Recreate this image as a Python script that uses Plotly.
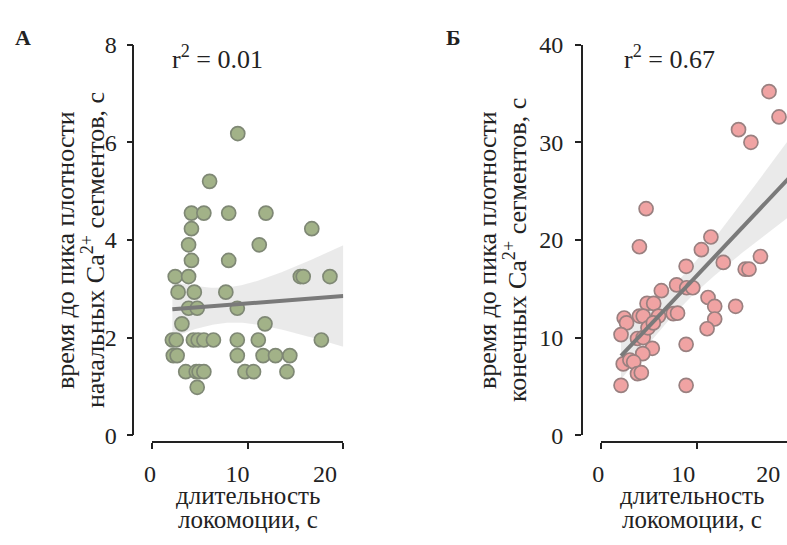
import numpy as np
import plotly.graph_objects as go

# Panel A: locomotion duration (s) vs time to peak density of initial Ca2+ segments (s)
a_dur = [8.95, 6.0,
         4.1, 5.4, 8.0, 11.9,
         4.1, 16.7,
         3.8, 11.2,
         4.1, 8.0,
         2.4, 3.8, 15.5, 15.8, 18.6,
         2.7, 4.4, 7.7,
         3.8, 4.7, 8.9,
         3.1, 11.8,
         2.1, 2.5, 4.3, 4.8, 5.4, 6.4, 8.9, 11.1, 17.7,
         2.2, 2.6, 8.9, 11.6, 12.9, 14.4,
         3.5, 4.6, 4.9, 5.4, 9.7, 10.6, 14.1,
         4.7]
a_peak = [6.18, 5.2,
          4.55, 4.55, 4.55, 4.55,
          4.23, 4.23,
          3.9, 3.9,
          3.58, 3.58,
          3.25, 3.25, 3.25, 3.25, 3.25,
          2.93, 2.93, 2.93,
          2.6, 2.6, 2.6,
          2.28, 2.28,
          1.95, 1.95, 1.95, 1.95, 1.95, 1.95, 1.95, 1.95, 1.95,
          1.63, 1.63, 1.63, 1.63, 1.63, 1.63,
          1.3, 1.3, 1.3, 1.3, 1.3, 1.3, 1.3,
          0.98]

# Panel B: locomotion duration (s) vs time to peak density of final Ca2+ segments (s)
b_dur = [17.6, 18.65, 14.4, 15.7, 4.7, 4.0, 11.5, 10.5, 16.7, 12.8,
         15.1, 15.5, 8.9, 7.9, 8.96, 9.6, 6.3, 11.2, 11.9, 14.1,
         4.8, 5.5, 11.9, 11.1, 7.55, 8.0, 2.4, 2.65, 2.07, 4.0,
         4.4, 6.0, 3.8, 4.4, 4.9, 5.46, 5.35, 4.35, 8.9, 2.3,
         3.0, 3.4, 3.8, 4.2, 2.07, 8.9]
b_peak = [35.2, 32.6, 31.3, 30.0, 23.2, 19.3, 20.3, 19.0, 18.3, 17.7,
          17.0, 17.0, 17.3, 15.4, 15.1, 15.1, 14.8, 14.1, 13.2, 13.2,
          13.5, 13.5, 11.9, 10.9, 12.45, 12.5, 12.0, 11.5, 10.3, 12.2,
          12.2, 12.2, 9.9, 10.0, 11.0, 11.5, 8.9, 8.35, 9.3, 7.3,
          7.7, 7.5, 6.3, 6.4, 5.1, 5.1]

x_ticks = [0, 10, 20]
a_yticks = [0, 2, 4, 6, 8]
b_yticks = [0, 10, 20, 30, 40]
r2_labels = ["0.01", "0.67"]

W, H = 787, 545
FONT = "Liberation Serif"
INK = "#222222"


def px(v):
    return v / W


def py(v):
    return 1 - v / H


def fit_with_ci(x, y, x_end, n=120):
    x = np.asarray(x, float)
    y = np.asarray(y, float)
    slope, icpt = np.polyfit(x, y, 1)
    resid = y - (slope * x + icpt)
    dof = len(x) - 2
    s = np.sqrt(np.sum(resid ** 2) / dof)
    grid = np.linspace(x.min(), x_end, n)
    se = s * np.sqrt(1 / len(x) + (grid - x.mean()) ** 2 / np.sum((x - x.mean()) ** 2))
    fit = slope * grid + icpt
    t = 2.014
    return grid, fit, fit - t * se, fit + t * se


fig = go.Figure()

panels = [
    dict(x=a_dur, y=a_peak, xa="x", ya="y", fill="#a2b288", edge="#7f8875"),
    dict(x=b_dur, y=b_peak, xa="x2", ya="y2", fill="#f0a3a3", edge="#9a8080"),
]

for p in panels:
    g, f, lo, hi = fit_with_ci(p["x"], p["y"], 20)
    fig.add_trace(go.Scatter(x=g, y=lo, mode="lines", line=dict(width=0),
                             xaxis=p["xa"], yaxis=p["ya"], hoverinfo="skip",
                             showlegend=False))
    fig.add_trace(go.Scatter(x=g, y=hi, mode="lines", line=dict(width=0),
                             fill="tonexty", fillcolor="rgba(225,225,225,0.7)",
                             xaxis=p["xa"], yaxis=p["ya"], hoverinfo="skip",
                             showlegend=False))
    fig.add_trace(go.Scatter(x=p["x"], y=p["y"], mode="markers",
                             marker=dict(size=14, color=p["fill"],
                                         line=dict(color=p["edge"], width=1.7)),
                             cliponaxis=False,
                             xaxis=p["xa"], yaxis=p["ya"], showlegend=False))
    fig.add_trace(go.Scatter(x=g, y=f, mode="lines",
                             line=dict(color="#7a7a7a", width=4),
                             xaxis=p["xa"], yaxis=p["ya"], showlegend=False))

# empty traces so that the tick-label axes get drawn
fig.add_trace(go.Scatter(x=[], y=[], xaxis="x3", yaxis="y", showlegend=False))
fig.add_trace(go.Scatter(x=[], y=[], xaxis="x4", yaxis="y2", showlegend=False))

tickfont = dict(family=FONT, size=24, color=INK)
line_axis = dict(showline=True, linecolor=INK, linewidth=1.5, ticks="outside",
                 ticklen=6, tickwidth=1.5, tickcolor=INK, showgrid=False,
                 zeroline=False, tickfont=tickfont, fixedrange=True)
label_axis = dict(showline=False, ticks="", showgrid=False, zeroline=False,
                  tickfont=tickfont, tickvals=x_ticks, fixedrange=True)

x_pos = 1 - 451 / H
lab_pos = 1 - 466 / H
y_dom = [py(443.3), py(33.3)]

fig.update_layout(
    width=W, height=H,
    margin=dict(l=0, r=0, t=0, b=0),
    paper_bgcolor="white", plot_bgcolor="rgba(0,0,0,0)",
    showlegend=False,
    xaxis=dict(line_axis, domain=[px(152.3), px(343.3)], range=[0, 20],
               tickvals=x_ticks, showticklabels=False, anchor="free", position=x_pos),
    yaxis=dict(line_axis, domain=y_dom, range=[0, 8], tickvals=a_yticks,
               ticklabelstandoff=5, anchor="free", position=px(133.3)),
    xaxis2=dict(line_axis, domain=[px(601.3), 1.0], range=[0, (787 - 601.3) / 9.53],
                tickvals=x_ticks, showticklabels=False, anchor="free", position=x_pos),
    yaxis2=dict(line_axis, domain=y_dom, range=[0, 40], tickvals=b_yticks,
                ticklabelstandoff=7, anchor="free", position=px(581.7)),
    xaxis3=dict(label_axis, domain=[px(140), px(343.3)],
                range=[-10 / 8.75, -10 / 8.75 + 203.3 / 8.75],
                anchor="free", position=lab_pos),
    xaxis4=dict(label_axis, domain=[px(590), 1.0],
                range=[-8.3 / 8.5, -8.3 / 8.5 + 197 / 8.5],
                anchor="free", position=lab_pos),
)

ann_font = dict(family=FONT, size=26, color=INK)
title_font = dict(family=FONT, size=26, color=INK)
xtitle_font = dict(family=FONT, size=25, color=INK)

for xc, letter in zip([22.5, 453.5], ["А", "Б"]):
    fig.add_annotation(text=f"<b>{letter}</b>", x=px(xc), y=py(26),
                       xref="paper", yref="paper", xanchor="center", yanchor="middle",
                       showarrow=False, font=dict(family=FONT, size=22, color=INK))

for xl, r2 in zip([170, 621.7], r2_labels):
    fig.add_annotation(text=f"r<sup>2</sup> = {r2}", x=px(xl), y=py(47),
                       xref="paper", yref="paper", xanchor="left", yanchor="middle",
                       showarrow=False, font=ann_font)

# two-line y titles, each line placed separately
for x1, x2, word in [(65, 93, "начальных"), (487, 515, "конечных")]:
    fig.add_annotation(text="время до пика плотности",
                       x=px(x1), y=py(249), xref="paper", yref="paper",
                       xanchor="center", yanchor="middle",
                       textangle=-90, showarrow=False, font=title_font)
    fig.add_annotation(text=f"{word} Ca<sup>2+</sup> сегментов, с",
                       x=px(x2), y=py(249), xref="paper", yref="paper",
                       xanchor="center", yanchor="middle",
                       textangle=-90, showarrow=False, font=title_font)

for xc in [247.5, 692]:
    fig.add_annotation(text="длительность", x=px(xc), y=py(507),
                       xref="paper", yref="paper", xanchor="center", yanchor="middle",
                       showarrow=False, font=xtitle_font)
    fig.add_annotation(text="локомоции, с", x=px(xc), y=py(532),
                       xref="paper", yref="paper", xanchor="center", yanchor="middle",
                       showarrow=False, font=xtitle_font)

fig.write_html("out.html")
